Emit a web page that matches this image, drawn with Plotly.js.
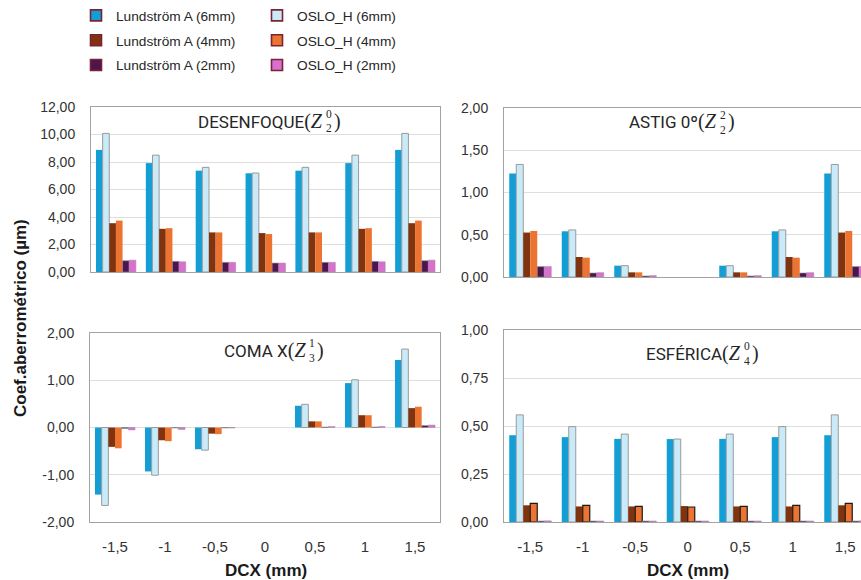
<!DOCTYPE html>
<html>
<head>
<meta charset="utf-8">
<script src="https://cdn.plot.ly/plotly-3.0.1.min.js"></script>
<style>html,body{margin:0;padding:0;background:#fff;}#chart{width:861px;height:580px;}</style>
</head>
<body>
<div id="chart"></div>
<script>
// ---- data ----
const categories = ['-1,5', '-1', '-0,5', '0', '0,5', '1', '1,5'];
const seriesNames = ['Lundström A (6mm)', 'OSLO_H (6mm)', 'Lundström A (4mm)', 'OSLO_H (4mm)', 'Lundström A (2mm)', 'OSLO_H (2mm)'];

// DESENFOQUE (Z2^0)
const desLund6 = [8.88, 7.92, 7.37, 7.18, 7.37, 7.92, 8.88];
const desOslo6 = [10.08, 8.50, 7.61, 7.20, 7.61, 8.50, 10.08];
const desLund4 = [3.55, 3.14, 2.88, 2.83, 2.88, 3.14, 3.55];
const desOslo4 = [3.74, 3.19, 2.88, 2.76, 2.88, 3.19, 3.74];
const desLund2 = [0.82, 0.77, 0.70, 0.65, 0.70, 0.77, 0.82];
const desOslo2 = [0.86, 0.74, 0.70, 0.65, 0.70, 0.74, 0.86];

// ASTIG 0º (Z2^2)
const astLund6 = [1.225, 0.541, 0.134, 0, 0.134, 0.541, 1.225];
const astOslo6 = [1.332, 0.557, 0.134, 0, 0.134, 0.557, 1.332];
const astLund4 = [0.526, 0.237, 0.055, 0, 0.055, 0.237, 0.526];
const astOslo4 = [0.545, 0.229, 0.055, 0, 0.055, 0.229, 0.545];
const astLund2 = [0.123, 0.047, 0.012, 0, 0.012, 0.047, 0.123];
const astOslo2 = [0.123, 0.051, 0.016, 0, 0.016, 0.051, 0.123];

// COMA X (Z3^1)
const comLund6 = [-1.42, -0.93, -0.46, 0, 0.46, 0.94, 1.43];
const comOslo6 = [-1.65, -1.01, -0.48, 0, 0.49, 1.01, 1.66];
const comLund4 = [-0.41, -0.27, -0.13, 0, 0.13, 0.26, 0.41];
const comOslo4 = [-0.44, -0.29, -0.14, 0, 0.13, 0.26, 0.44];
const comLund2 = [-0.02, -0.01, -0.01, 0, 0.01, 0.01, 0.04];
const comOslo2 = [-0.05, -0.04, -0.01, 0, 0.02, 0.02, 0.05];

// ESFÉRICA (Z4^0)
const esfLund6 = [0.452, 0.442, 0.433, 0.432, 0.433, 0.442, 0.452];
const esfOslo6 = [0.558, 0.497, 0.458, 0.432, 0.458, 0.497, 0.558];
const esfLund4 = [0.087, 0.081, 0.081, 0.083, 0.081, 0.081, 0.087];
const esfOslo4 = [0.097, 0.087, 0.081, 0.078, 0.081, 0.087, 0.097];
const esfLund2 = [0.005, 0.005, 0.005, 0.005, 0.005, 0.005, 0.005];
const esfOslo2 = [0.006, 0.005, 0.005, 0.005, 0.005, 0.005, 0.006];

// tick labels for the COMA panel (hyphen minus as in the original)
const comaTickVals = [-2, -1, 0, 1, 2];
const comaTickText = ['-2,00', '-1,00', '0,00', '1,00', '2,00'];

// ---- styles ----
const colors = ['#139fd6', '#c9eaf8', '#80330f', '#ec7430', '#4e1450', '#d96fce'];
const borders = ['#139fd6', '#9a9a9a', '#80330f', '#ec7430', '#8a8a8a', '#a78aa5'];
const borderW = [0, 1, 0, 0, 0.6, 0.6];

const panels = [
  {data: [desLund6, desOslo6, desLund4, desOslo4, desLund2, desOslo2], xa: 'x', ya: 'y'},
  {data: [astLund6, astOslo6, astLund4, astOslo4, astLund2, astOslo2], xa: 'x2', ya: 'y2'},
  {data: [comLund6, comOslo6, comLund4, comOslo4, comLund2, comOslo2], xa: 'x3', ya: 'y3'},
  {data: [esfLund6, esfOslo6, esfLund4, esfOslo4, esfLund2, esfOslo2], xa: 'x4', ya: 'y4', orangeBorder: '#1a1a1a'}
];

const traces = [];
panels.forEach(p => {
  p.data.forEach((vals, i) => {
    let lc = borders[i], lw = borderW[i];
    if (i === 3 && p.orangeBorder) { lc = p.orangeBorder; lw = 1.2; }
    traces.push({
      type: 'bar', x: categories, y: vals, name: seriesNames[i],
      xaxis: p.xa, yaxis: p.ya, showlegend: false,
      marker: {color: colors[i], line: {color: lc, width: vals.map(v => v === 0 ? 0 : lw)}},
      hoverinfo: 'name+x+y'
    });
  });
});

// legend-only entries (two columns)
seriesNames.forEach((n, i) => {
  traces.push({
    type: 'scatter', mode: 'markers', x: [null], y: [null], name: n,
    xaxis: 'x', yaxis: 'y', legendgroup: 'g' + i,
    legend: (i % 2 === 0) ? 'legend' : 'legend2',
    marker: {symbol: 'square', size: 11, color: colors[i], line: {color: '#7a2433', width: 1.6}},
    showlegend: true, hoverinfo: 'skip'
  });
});

const W = 861, H = 580;
const px = v => v / W;
const py = v => 1 - v / H;

const gridC = '#dedede', frameC = '#a3a3a3';
const tickFontY = {family: 'Liberation Sans, Arial, sans-serif', size: 14, color: '#333333'};
const tickFontX = {family: 'Liberation Sans, Arial, sans-serif', size: 15, color: '#333333'};

function xAxis(dom, range, labels, mirror, anchor) {
  return {domain: dom, range: range, anchor: anchor, type: 'category', showgrid: false, showline: true, linecolor: frameC,
    linewidth: 1, mirror: mirror, ticks: '', showticklabels: labels, tickfont: tickFontX,
    ticklabelstandoff: 11, fixedrange: true};
}
function yAxis(dom, range, dtick, mirror, anchor) {
  return {domain: dom, range: range, anchor: anchor, dtick: dtick, tick0: 0, tickformat: '.2f', showgrid: true, gridcolor: gridC,
    gridwidth: 1, zeroline: false, showline: true, linecolor: frameC, linewidth: 1, mirror: mirror,
    ticks: '', tickfont: tickFontY, ticklabelstandoff: 12, fixedrange: true};
}

const annotations = [];
const titleFont = {family: 'Roboto, Noto Sans, sans-serif', size: 17, color: '#262626'};
const serif = 'Liberation Serif, DejaVu Serif, serif';
function panelTitle(label, S, Y, sup, sub) {
  annotations.push({xref: 'paper', yref: 'paper', x: px(S), y: py(Y), xanchor: 'right', yanchor: 'middle',
    showarrow: false, borderpad: 0,
    text: label + '<span style="font-family:' + serif + ';font-size:20px">(<i>Z</i></span>', font: titleFont});
  annotations.push({xref: 'paper', yref: 'paper', x: px(S + 1), y: py(Y - 7), xanchor: 'left', yanchor: 'middle',
    showarrow: false, borderpad: 0, text: sup, font: {family: serif, size: 11.5, color: '#262626'}});
  annotations.push({xref: 'paper', yref: 'paper', x: px(S + 1), y: py(Y + 7.5), xanchor: 'left', yanchor: 'middle',
    showarrow: false, borderpad: 0, text: sub, font: {family: serif, size: 11.5, color: '#262626'}});
  annotations.push({xref: 'paper', yref: 'paper', x: px(S + 9), y: py(Y), xanchor: 'left', yanchor: 'middle',
    showarrow: false, borderpad: 0, text: ')', font: {family: serif, size: 20, color: '#262626'}});
}
panelTitle('DESENFOQUE', 324, 121, '0', '2');
panelTitle('ASTIG 0º', 718, 122, '2', '2');
panelTitle('COMA X', 307, 350, '1', '3');
panelTitle('ESFÉRICA', 742, 353, '0', '4');

// axis titles
const axTitleFont = {family: 'Liberation Sans, Arial, sans-serif', size: 17, color: '#1a1a1a'};
annotations.push({xref: 'paper', yref: 'paper', x: px(266), y: py(570), xanchor: 'center', yanchor: 'middle',
  showarrow: false, text: '<b>DCX (mm)</b>', font: axTitleFont});
annotations.push({xref: 'paper', yref: 'paper', x: px(688), y: py(570), xanchor: 'center', yanchor: 'middle',
  showarrow: false, text: '<b>DCX (mm)</b>', font: axTitleFont});
annotations.push({xref: 'paper', yref: 'paper', x: px(20), y: py(318), xanchor: 'center', yanchor: 'middle',
  showarrow: false, textangle: -90, text: '<b>Coef.aberrométrico (µm)</b>', font: axTitleFont});

const legendFont = {family: 'Liberation Sans, Arial, sans-serif', size: 13.7, color: '#262626'};
const y3 = yAxis([py(522), py(333)], [-2, 2], 1, true, 'x3');
y3.tickvals = comaTickVals; y3.ticktext = comaTickText;

const layout = {
  width: W, height: H, margin: {l: 0, r: 0, t: 0, b: 0},
  paper_bgcolor: '#ffffff', plot_bgcolor: '#ffffff',
  separators: ', ',
  barmode: 'group', bargap: 0.2, bargroupgap: 0,
  xaxis: xAxis([px(91), px(440)], [-0.5, 6.5], false, true, 'y'),
  yaxis: yAxis([py(272), py(107)], [0, 12], 2, true, 'x'),
  xaxis2: xAxis([px(504), 1], [-0.5, 6.3], false, true, 'y2'),
  yaxis2: yAxis([py(277), py(108)], [0, 2], 0.5, false, 'x2'),
  xaxis3: xAxis([px(90), px(440)], [-0.5, 6.5], true, true, 'y3'),
  yaxis3: y3,
  xaxis4: xAxis([px(504), 1], [-0.5, 6.3], true, true, 'y4'),
  yaxis4: yAxis([py(522), py(330)], [0, 1], 0.25, false, 'x4'),
  showlegend: true,
  legend: {x: px(76), y: 1, xanchor: 'left', yanchor: 'top', orientation: 'v', font: legendFont,
    bgcolor: 'rgba(0,0,0,0)', borderwidth: 0, tracegroupgap: 4, itemclick: false, itemdoubleclick: false},
  legend2: {x: px(257), y: 1, xanchor: 'left', yanchor: 'top', orientation: 'v', font: legendFont,
    bgcolor: 'rgba(0,0,0,0)', borderwidth: 0, tracegroupgap: 4, itemclick: false, itemdoubleclick: false},
  annotations: annotations
};

Plotly.newPlot('chart', traces, layout, {displayModeBar: false, staticPlot: false, responsive: false});
</script>
</body>
</html>
